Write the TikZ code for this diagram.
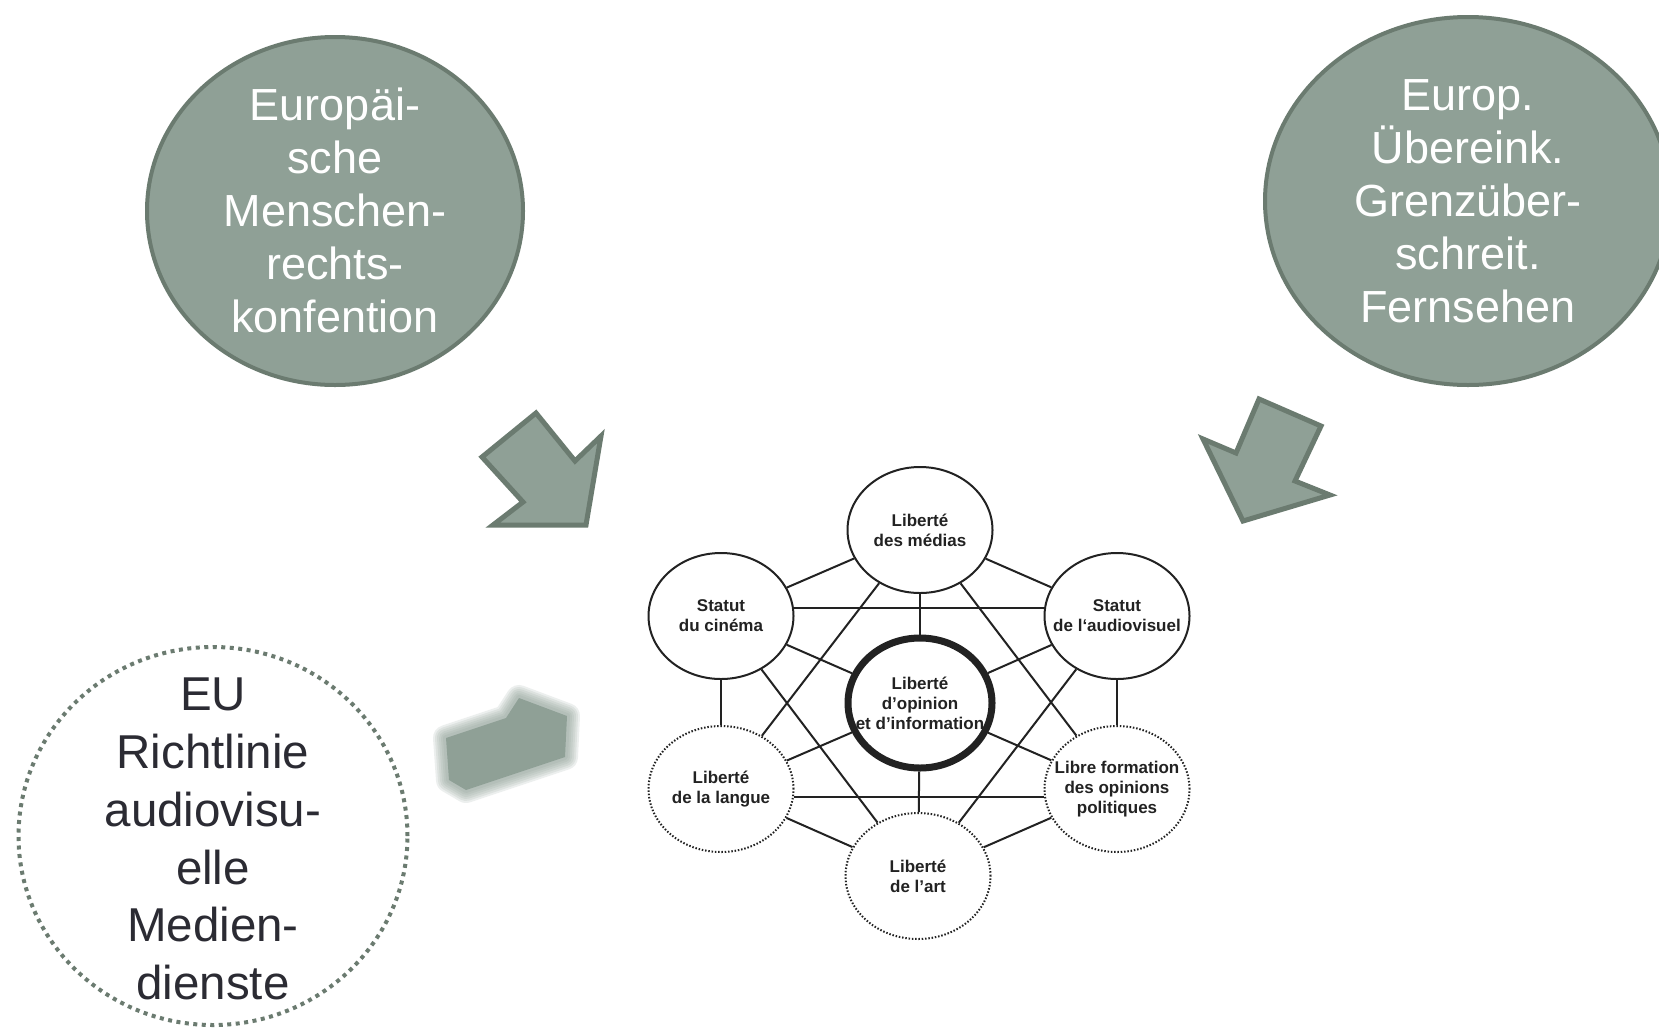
\documentclass[tikz,border=0pt]{standalone}
\usepackage{fontspec}
\setmainfont{Liberation Sans}
\usetikzlibrary{shapes.geometric}
\definecolor{sage}{HTML}{8FA096}
\definecolor{sagedark}{HTML}{6B7B70}
\definecolor{inkdark}{HTML}{2B2B33}
\definecolor{ink}{HTML}{222222}
\begin{document}
\begin{tikzpicture}[x=1pt,y=-1pt,
  bigell/.style={ellipse, draw=sagedark, fill=sage, line width=4pt, inner sep=0pt},
  bigtext/.style={inner sep=0pt, text=white, align=center, font=\fontsize{45}{53}\selectfont},
  dotell/.style={ellipse, draw=sagedark, line width=4pt, dash pattern=on 4pt off 4.5pt, inner sep=0pt},
  dottext/.style={inner sep=0pt, text=inkdark, align=center, font=\fontsize{47.5}{57.8}\selectfont},
  netnode/.style={ellipse, draw=ink, fill=white, line width=2pt, inner sep=0pt,
    minimum width=145pt, minimum height=126pt},
  netdot/.style={netnode, dash pattern=on 1.5pt off 1.8pt},
  netcenter/.style={netnode, line width=7pt, minimum width=144pt, minimum height=130pt},
  nettext/.style={inner sep=0pt, align=center, font=\fontsize{17}{20}\selectfont\bfseries, text=ink},
  edge/.style={draw=ink, line width=2pt},
  arrowst/.style={draw=sagedark, fill=sage, line width=5pt, line join=miter}
]
\useasboundingbox (0,0) rectangle (1659,1029);
\clip (0,0) rectangle (1659,1029);
\fill[white] (0,0) rectangle (1659,1029);

% big source ellipses
\node[bigell, minimum width=376pt, minimum height=348pt] (echr) at (335,211) {};
\node[bigtext] (echrt) at ([yshift=1pt]echr.center)
  {Europäi-\\sche\\Menschen-\\rechts-\\konfention};
\node[bigell, minimum width=406pt, minimum height=368pt] (ectt) at (1468,201) {};
\node[bigtext] (ecttt) at (ectt.center)
  {Europ.\\Übereink.\\Grenzüber-\\schreit.\\Fernsehen};
\node[dotell, minimum width=389pt, minimum height=378pt] (avms) at (213,836) {};
\node[dottext] (avmst) at ([yshift=-3pt]avms.center)
  {EU\\Richtlinie\\audiovisu-\\elle\\Medien-\\dienste};

% arrows
\draw[arrowst] (482,457) -- (536,413) -- (575,461) -- (601,436) -- (586,525) -- (493,525) -- (523,502) -- cycle;
\draw[arrowst] (1259,399) -- (1321,426) -- (1295,481) -- (1330,495) -- (1243,521) -- (1203,439) -- (1236,453) -- cycle;

% blurred arrow
\foreach \w in {26,22,18,14,10,6} {
  \draw[sage, line width=\w pt, line join=round, opacity=0.16]
    (446,738) -- (506,718) -- (519,698) -- (567,716) -- (565,757) -- (466,790) -- (449,780) -- cycle;
}
\fill[sage] (446,738) -- (506,718) -- (519,698) -- (567,716) -- (565,757) -- (466,790) -- (449,780) -- cycle;

% network
\node[netnode] (med) at (920,530) {};
\node[netnode] (cin) at (721,616) {};
\node[netnode] (aud) at (1117,616) {};
\node[netcenter] (op) at (920,703) {};
\node[netdot] (lan) at (721,789) {};
\node[netdot] (lib) at (1117,789) {};
\node[netdot] (art) at (918,876) {};

\draw[edge] (med) -- (cin);
\draw[edge] (med) -- (aud);
\draw[edge] (cin) -- (lan);
\draw[edge] (aud) -- (lib);
\draw[edge] (lan) -- (art);
\draw[edge] (lib) -- (art);
\draw[edge] (med) -- (op);
\draw[edge] (cin) -- (op);
\draw[edge] (aud) -- (op);
\draw[edge] (lan) -- (op);
\draw[edge] (lib) -- (op);
\draw[edge] (art) -- (op);
\draw[edge] (med) -- (lan);
\draw[edge] (med) -- (lib);
\draw[edge] (cin) -- (art);
\draw[edge] (aud) -- (art);
\draw[edge] (cin.6) -- (aud.174);
\draw[edge] (lan.-6) -- (lib.186);

\node[nettext] (medt) at (med.center) {Liberté\\des médias};
\node[nettext] (cint) at (cin.center) {Statut\\du cinéma};
\node[nettext] (audt) at (aud.center) {Statut\\de l‘audiovisuel};
\node[nettext] (opt) at (op.center) {Liberté\\d’opinion\\et d’information};
\node[nettext] (lant) at (lan.center) {Liberté\\de la langue};
\node[nettext] (libt) at (lib.center) {Libre formation\\des opinions\\politiques};
\node[nettext] (artt) at (art.center) {Liberté\\de l’art};
\end{tikzpicture}
\end{document}
